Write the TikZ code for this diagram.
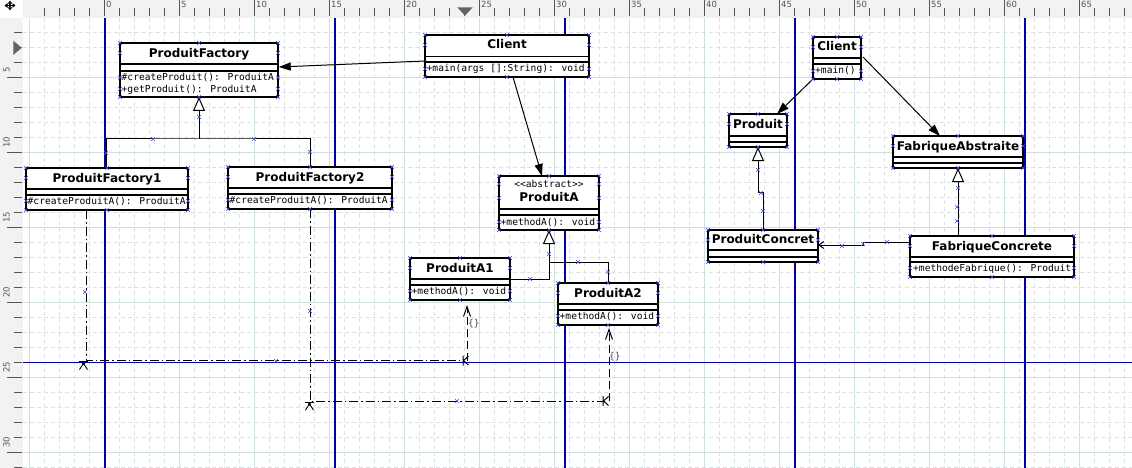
\documentclass[tikz,border=0pt]{standalone}
\usepackage{fontspec}
\setmainfont{DejaVu Sans}
\newfontfamily\monof{DejaVu Sans Mono}
\usetikzlibrary{arrows.meta,calc}
\definecolor{rulerbg}{RGB}{242,242,244}
\definecolor{tickc}{RGB}{85,85,85}
\definecolor{gridmin}{RGB}{214,228,228}
\definecolor{gridmaj}{RGB}{206,223,223}
\definecolor{pageln}{RGB}{0,0,165}
\definecolor{hcol}{RGB}{70,70,235}
\definecolor{lblc}{RGB}{80,80,80}
\definecolor{trig}{RGB}{100,100,100}
\tikzset{
 cls/.style={draw=black, fill=white, line width=1.2pt, inner sep=0pt, outer sep=0pt, anchor=north west},
 cl/.style={line width=1.2pt},
 ttl/.style={font=\fontsize{12}{14}\selectfont\bfseries, inner sep=0pt, anchor=base},
 mth/.style={font=\monof\fontsize{9.6}{11}\selectfont, inner sep=0pt, anchor=base west},
 conn/.style={line width=1pt},
 assoc/.style={conn, -{Triangle[length=12pt,width=8pt]}},
 gen/.style={conn, -{Triangle[open,fill=white,length=14pt,width=12pt]}},
 dashdotln/.style={conn, dash pattern=on 9pt off 3pt on 1.5pt off 3pt},
 depln/.style={conn, dash pattern=on 8pt off 4pt, -{Straight Barb[length=10pt,width=7pt]}},
 gridminor/.style={gridmin, line width=0.8pt, dash pattern=on 4pt off 3pt},
 gridmajor/.style={gridmaj, line width=0.9pt},
 tick/.style={tickc, line width=0.9pt},
 rlab/.style={font=\fontsize{8.5}{10}\selectfont, text=tickc, inner sep=0pt},
 hx/.pic={\draw[hcol, line width=0.6pt] (-1.8,-1.8)--(1.8,1.8) (-1.8,1.8)--(1.8,-1.8);},
 smk/.pic={\draw[line width=1pt] (-4.5,0)--(4.5,0); \fill (0,2) circle (1.6); \draw[line width=0.9pt] (0,2)--(-4,8) (0,2)--(4,8);},
 kmk/.pic={\draw[line width=1pt] (0,-5)--(0,5) (5.5,-4.5)--(0.5,0)--(5.5,4.5);}
}
\newcommand\compline[2]{\draw[cl] ($(#1.north west)+(0,#2)$) -- ($(#1.north east)+(0,#2)$);}
\newcommand\hnd[2]{%
 \foreach \a in {north west,north,north east,south west,south,south east}{\pic at (#1.\a) {hx};}
 \foreach \o in {#2}{\pic at ($(#1.north west)+(0,\o)$) {hx}; \pic at ($(#1.north east)+(0,\o)$) {hx};}
}
\begin{document}
\begin{tikzpicture}[x=1pt,y=-1pt]
\useasboundingbox (0,0) rectangle (1132,468);
\begin{scope}
\clip (0,0) rectangle (1132,468);
\fill[white] (0,0) rectangle (1132,468);
% grid
\foreach \x in {29,44,...,1124} \draw[gridminor] (\x,18) -- (\x,468);
\foreach \y in {32,47,...,467} \draw[gridminor] (23,\y) -- (1132,\y);
\foreach \x in {29,104,...,1079} \draw[gridmajor] (\x,18) -- (\x,468);
\foreach \y in {77,152,...,452} \draw[gridmajor] (23,\y) -- (1132,\y);
% page limits
\foreach \x in {105,335,565,795,1025} \draw[pageln, line width=1.2pt] (\x,18) -- (\x,468);
\draw[pageln, line width=1pt] (23,362.3) -- (1132,362.3);
% rulers
\fill[rulerbg] (23,0) rectangle (1132,18);
\fill[rulerbg] (0,18) rectangle (23,468);
\foreach \k in {-4,...,68}{
  \pgfmathtruncatemacro\xx{104+15*\k}
  \pgfmathtruncatemacro\mm{mod(\k+100,5)}
  \ifnum\mm=0
    \draw[tick] (\xx,0) -- (\xx,16);
    \node[rlab, anchor=base west] (tl\k) at (\xx+2,7.2) {\k};
  \else
    \draw[tick] (\xx,8.5) -- (\xx,16);
  \fi
}
\foreach \k in {2,...,31}{
  \pgfmathtruncatemacro\yy{2+15*\k}
  \pgfmathtruncatemacro\mm{mod(\k,5)}
  \ifnum\mm=0
    \draw[tick] (7,\yy) -- (22,\yy);
    \node[rlab, rotate=90, anchor=base west] (ll\k) at (9.5,\yy-4) {\k};
  \else
    \draw[tick] (14,\yy) -- (22,\yy);
  \fi
}
\fill[trig] (457.3,7.3) -- (472.7,7.3) -- (465,15.7) -- cycle;
\fill[trig] (13.3,40.7) -- (13.3,55) -- (21.7,47.8) -- cycle;
\fill[white] (0,0) rectangle (23,18);
\foreach \dx/\dy in {5.5/0,-5.5/0,0/4.8,0/-4.8}
  \draw[line width=1.1pt, -{Triangle[length=3pt,width=4.5pt]}] (10,5.5) -- ++(\dx,\dy);

% ---------- classes ----------
% ProduitFactory
\node[cls, minimum width=158pt, minimum height=54pt] (pf) at (120,43) {};
\compline{pf}{21}\compline{pf}{28}
\node[ttl] (pft) at ($(pf.north)+(0,14.5)$) {ProduitFactory};
\node[mth] (pfm1) at ($(pf.north west)+(1.5,38)$) {\#createProduit(): ProduitA};
\node[mth] (pfm2) at ($(pf.north west)+(1.5,49.5)$) {+getProduit(): ProduitA};
% ProduitFactory1
\node[cls, minimum width=162pt, minimum height=42pt] (pf1) at (26,168) {};
\compline{pf1}{21}\compline{pf1}{27}
\node[ttl] (pf1t) at ($(pf1.north)+(0,14.5)$) {ProduitFactory1};
\node[mth] (pf1m) at ($(pf1.north west)+(1.5,36)$) {\#createProduitA(): ProduitA};
% ProduitFactory2
\node[cls, minimum width=164pt, minimum height=42pt] (pf2) at (228,167) {};
\compline{pf2}{21}\compline{pf2}{27}
\node[ttl] (pf2t) at ($(pf2.north)+(0,14.5)$) {ProduitFactory2};
\node[mth] (pf2m) at ($(pf2.north west)+(1.5,36)$) {\#createProduitA(): ProduitA};
% Client
\node[cls, minimum width=164pt, minimum height=42pt] (client) at (425,35) {};
\compline{client}{21.5}\compline{client}{27}
\node[ttl] (clientt) at ($(client.north)+(0,14)$) {Client};
\node[mth] (clientm) at ($(client.north west)+(1.5,37)$) {+main(args []:String): void};
% ProduitA
\node[cls, minimum width=100pt, minimum height=54pt] (pa) at (499,176) {};
\compline{pa}{33}\compline{pa}{39}
\node[mth, anchor=base] (pas) at ($(pa.north)+(0,11)$) {{<}{<}abstract{>}{>}};
\node[ttl] (pat) at ($(pa.north)+(0,25.5)$) {ProduitA};
\node[mth] (pam) at ($(pa.north west)+(1.5,49)$) {+methodA(): void};
% ProduitA1
\node[cls, minimum width=100pt, minimum height=42pt] (pa1) at (410,258) {};
\compline{pa1}{21}\compline{pa1}{27}
\node[ttl] (pa1t) at ($(pa1.north)+(0,14.5)$) {ProduitA1};
\node[mth] (pa1m) at ($(pa1.north west)+(1.5,36)$) {+methodA(): void};
% ProduitA2
\node[cls, minimum width=100pt, minimum height=42pt] (pa2) at (558,283) {};
\compline{pa2}{21}\compline{pa2}{27}
\node[ttl] (pa2t) at ($(pa2.north)+(0,14.5)$) {ProduitA2};
\node[mth] (pa2m) at ($(pa2.north west)+(1.5,36.5)$) {+methodA(): void};
% Client (right)
\node[cls, minimum width=48pt, minimum height=42pt] (client2) at (813,37) {};
\compline{client2}{21}\compline{client2}{27}
\node[ttl] (client2t) at ($(client2.north)+(0,14)$) {Client};
\node[mth] (client2m) at ($(client2.north west)+(2,37)$) {+main()};
% Produit
\node[cls, minimum width=58pt, minimum height=33pt] (produit) at (729,114) {};
\compline{produit}{22}\compline{produit}{28}
\node[ttl] (produitt) at ($(produit.north)+(0,14.5)$) {Produit};
% FabriqueAbstraite
\node[cls, minimum width=130pt, minimum height=32pt] (fa) at (893,136) {};
\compline{fa}{21}\compline{fa}{27}
\node[ttl] (fat) at ($(fa.north)+(0,14.3)$) {FabriqueAbstraite};
% ProduitConcret
\node[cls, minimum width=110pt, minimum height=32pt] (pc) at (708,230) {};
\compline{pc}{20}\compline{pc}{27}
\node[ttl] (pct) at ($(pc.north)+(0,13.5)$) {ProduitConcret};
% FabriqueConcrete
\node[cls, minimum width=164pt, minimum height=41pt] (fc) at (910,236) {};
\compline{fc}{21}\compline{fc}{26}
\node[ttl] (fct) at ($(fc.north)+(0,14)$) {FabriqueConcrete};
\node[mth] (fcm) at ($(fc.north west)+(3,35.5)$) {+methodeFabrique(): Produit};

% ---------- connectors ----------
\draw[assoc] ($(client.north west)+(0,26)$) -- ($(pf.north east)+(0.7,24)$);
\draw[assoc] ($(client.south west)+(88,0)$) -- ($(pa.north west)+(43,0)$);
\draw[conn] ($(pf1.north west)+(80,0)$) |- ($(pf.south)+(0,42)$) -| ($(pf2.north west)+(82,0)$);
\draw[gen] ($(pf.south)+(0,42)$) -- (pf.south);
\draw[gen] ($(pa1.north east)+(0,21)$) -| (pa.south);
\draw[conn] ($(pa2.north west)+(50,0)$) |- ($(pa.south)+(0,32)$);
% dependencies
\coordinate (d1a) at (86,360.6);
\coordinate (d1b) at (463,360.6);
\draw[dashdotln] ($(pf1.south west)+(60,0)$) -- (d1a) -- (d1b);
\draw[depln] ($(d1b)+(4,0)$) -- ($(pa1.south)+(7,5)$);
\pic at (83.5,361.5) {smk};
\pic at (d1b) {kmk};
\coordinate (d2a) at (310,401);
\coordinate (d2b) at (603,401);
\draw[dashdotln] ($(pf2.south west)+(82,0)$) -- (d2a) -- (d2b);
\draw[depln] ($(d2b)+(6,0)$) -- ($(pa2.south)+(1,3)$);
\pic at (309.5,402) {smk};
\pic at (d2b) {kmk};
\node[mth, text=lblc] (lb1) at (468,326) {\{\}};
\node[mth, text=lblc] (lb2) at (609,359) {\{\}};
% right diagram
\draw[assoc] (client2.south west) -- ($(produit.north east)+(-10,0)$);
\draw[assoc] ($(client2.north east)+(2,20)$) -- ($(fa.north west)+(47,0)$);
\draw[gen] (pc.north) |- ($(produit.south)+(0,45)$) -- (produit.south);
\draw[gen] ($(fc.north west)+(48,0)$) -- (fa.south);
\draw[conn, -{Straight Barb[length=5pt,width=7pt]}] ($(fc.north west)+(0,6)$) -- ++(-47,0) -- ++(0,3) -- ($(pc.north east)+(0,15)$);

% ---------- selection handles ----------
\hnd{pf}{10,34.5,46}
\hnd{pf1}{10,33}
\hnd{pf2}{10,33}
\hnd{client}{10,34}
\hnd{pa}{8,22,46}
\hnd{pa1}{10,33}
\hnd{pa2}{10,33}
\hnd{client2}{10,34}
\hnd{produit}{10}
\hnd{fa}{10}
\hnd{pc}{10}
\hnd{fc}{10,32}
\foreach \p in {{153,139},{254,139},{106,153},{310,152},{199,117},
  {85,292},{310,311},{276,361},{457,401},
  {549,254},{530,279},{578,262},{608,272},
  {758,170},{761,193},{763,211},{958,188},{957,207},{957,221},
  {842,246},{863,244},{887,242}}
  \pic at (\p) {hx};
\end{scope}
\end{tikzpicture}
\end{document}
